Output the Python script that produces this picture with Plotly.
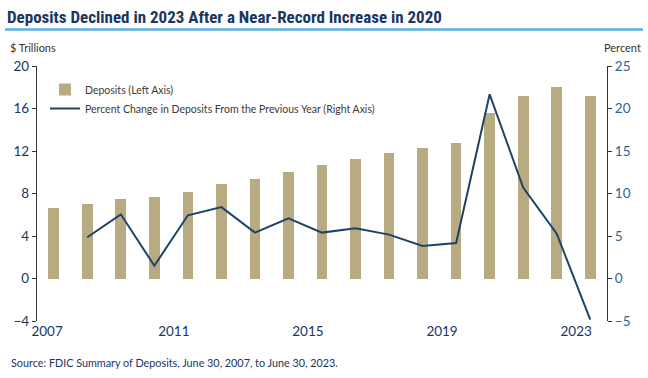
import plotly.graph_objects as go

years = list(range(2007, 2024))
deposits = [6.67, 6.98, 7.52, 7.64, 8.18, 8.93, 9.37, 10.02, 10.64, 11.22, 11.78,
            12.25, 12.76, 15.55, 17.18, 18.06, 17.21]
pct_years = list(range(2008, 2024))
pct_change = [4.85, 7.55, 1.5, 7.44, 8.4, 5.4, 7.08, 5.4, 5.9, 5.16, 3.83, 4.18,
              21.67, 10.7, 5.28, -4.85]
tick_labels = ["2007", "2011", "2015", "2019", "2023"]
left_ticks = [-4, 0, 4, 8, 12, 16, 20]
right_ticks = [-5, 0, 5, 10, 15, 20, 25]

W, H = 648, 378
L, R, T, B = 37, 41, 66, 57
pw, ph = W - L - R, H - T - B

def px_x(p):
    return (p - L) / pw

def px_y(p):
    return (H - B - p) / ph

navy = "#1b365d"
tan = "#b8ab82"
linec = "#1d4466"
font = "Lato"
title_font = "Liberation Sans Narrow, Roboto Condensed, DejaVu Sans Condensed, sans-serif"

fig = go.Figure()
fig.add_trace(go.Bar(x=years, y=deposits, name="Deposits (Left Axis)",
                     marker=dict(color=tan, line=dict(width=0)), width=0.32,
                     yaxis="y"))
fig.add_trace(go.Scatter(x=pct_years, y=pct_change, mode="lines",
                         name="Percent Change in Deposits From the Previous Year (Right Axis)",
                         line=dict(color=linec, width=2), yaxis="y2"))

label_pos = [int(t) - 0.2 if t == "2007" else int(t) - 0.42 for t in tick_labels]
boundary_ticks = [int(t) - 0.5 for t in tick_labels[1:]]

fig.update_layout(
    width=W, height=H, margin=dict(l=L, r=R, t=T, b=B),
    paper_bgcolor="white", plot_bgcolor="white",
    font=dict(family=font, color=navy),
    showlegend=True,
    legend=dict(x=px_x(45), y=px_y(75), xanchor="left", yanchor="top",
                bgcolor="rgba(0,0,0,0)", font=dict(size=10.5, color="#3a3a3a"),
                tracegroupgap=2, itemwidth=30),
    bargap=0,
    xaxis=dict(range=[2006.5, 2023.5], tickmode="array", tickvals=label_pos,
               ticktext=tick_labels, ticks="", showline=False, showgrid=False,
               zeroline=False, tickfont=dict(size=13.5, color=navy, family=font)),
    xaxis2=dict(overlaying="x", anchor="free", position=4 / 24,
                range=[2006.5, 2023.5], tickmode="array", tickvals=boundary_ticks,
                ticks="outside", ticklen=4, tickcolor="#333", showticklabels=False,
                showline=True, linecolor="#333", linewidth=1.2, showgrid=False,
                zeroline=False),
    yaxis=dict(range=[-4, 20], tickvals=left_ticks, ticks="outside", ticklen=4,
               tickcolor="#333", showline=True, linecolor="#333", linewidth=1.2,
               showgrid=False, zeroline=False,
               tickfont=dict(size=13.5, color=navy, family=font)),
    yaxis2=dict(range=[-5, 25], tickvals=right_ticks, overlaying="y", side="right",
                ticks="outside", ticklen=4, tickcolor="#333", showline=True,
                linecolor="#333", linewidth=1.2, showgrid=False, zeroline=False,
                tickfont=dict(size=13.5, color="#2f6496", family=font)),
)

fig.add_annotation(text="<b>Deposits Declined in 2023 After a Near-Record Increase in 2020</b>",
                   xref="paper", yref="paper", x=px_x(5), y=px_y(17),
                   xanchor="left", yanchor="middle", showarrow=False,
                   font=dict(size=17, color=navy, family=title_font))
fig.add_shape(type="line", xref="paper", yref="paper", x0=px_x(5), x1=px_x(643),
              y0=px_y(29.5), y1=px_y(29.5), line=dict(color="#5aaee2", width=2.5))
fig.add_annotation(text="$ Trillions", xref="paper", yref="paper", x=px_x(8), y=px_y(47),
                   xanchor="left", yanchor="middle", showarrow=False,
                   font=dict(size=11, color="#333", family=font))
fig.add_annotation(text="Percent", xref="paper", yref="paper", x=px_x(643), y=px_y(47),
                   xanchor="right", yanchor="middle", showarrow=False,
                   font=dict(size=11, color="#333", family=font))
fig.add_annotation(text="Source: FDIC Summary of Deposits, June 30, 2007, to June 30, 2023.",
                   xref="paper", yref="paper", x=px_x(9), y=px_y(362),
                   xanchor="left", yanchor="middle", showarrow=False,
                   font=dict(size=10.8, color=navy, family=font))

fig.write_html("out.html", config={"displayModeBar": False},
               post_script="document.body.style.margin='0px';")
